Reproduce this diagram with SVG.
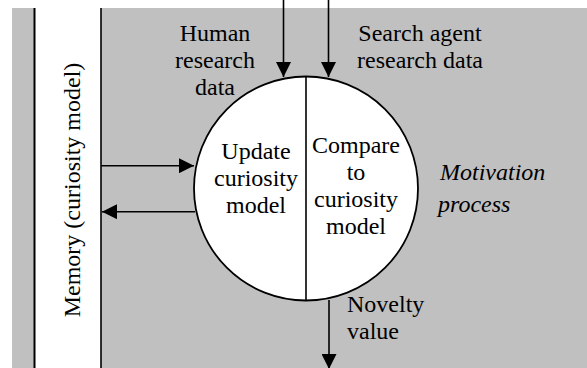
<svg xmlns="http://www.w3.org/2000/svg" width="587" height="368" viewBox="0 0 587 368" font-family="Times New Roman, Liberation Serif, serif" font-size="24">
  <style>
    .c { text-anchor: middle; }
  </style>
  <defs>
    <marker id="ah" viewBox="0 0 15 15" refX="15" refY="7.5" markerWidth="15" markerHeight="15" markerUnits="userSpaceOnUse" orient="auto">
      <path d="M0,0 L15,7.5 L0,15 Z" fill="#000"/>
    </marker>
  </defs>
  <rect width="587" height="368" fill="#fff"/>
  <g id="motivation-process">
    <rect x="12" y="8" width="575" height="360" fill="#c0c0c0"/>
    <text font-family="Times New Roman, serif" font-style="italic" x="440" y="180">Motivation</text>
    <text font-family="Times New Roman, serif" font-style="italic" x="438" y="212">process</text>
  </g>
  <g id="memory">
    <rect x="35" y="8" width="66" height="360" fill="#fff"/>
    <line x1="34.5" y1="8" x2="34.5" y2="368" stroke="#000" stroke-width="2"/>
    <line x1="101" y1="8" x2="101" y2="368" stroke="#000" stroke-width="1.6"/>
    <text font-family="Times New Roman, serif" class="c" transform="translate(80,190) rotate(-90)">Memory (curiosity model)</text>
  </g>
  <g id="process-circle">
    <circle cx="306" cy="188.5" r="112" fill="#fff" stroke="#000" stroke-width="1.8"/>
    <line x1="306" y1="76.5" x2="306" y2="300.5" stroke="#000" stroke-width="1.6"/>
    <text font-family="Times New Roman, serif" class="c" x="256" y="159">Update</text>
    <text font-family="Times New Roman, serif" class="c" x="256" y="186">curiosity</text>
    <text font-family="Times New Roman, serif" class="c" x="256" y="213">model</text>
    <text font-family="Times New Roman, serif" class="c" x="356" y="153">Compare</text>
    <text font-family="Times New Roman, serif" class="c" x="356" y="180">to</text>
    <text font-family="Times New Roman, serif" class="c" x="356" y="207">curiosity</text>
    <text font-family="Times New Roman, serif" class="c" x="356" y="234">model</text>
  </g>
  <g id="labels">
    <text font-family="Times New Roman, serif" class="c" x="215" y="41">Human</text>
    <text font-family="Times New Roman, serif" class="c" x="215" y="68">research</text>
    <text font-family="Times New Roman, serif" class="c" x="215" y="95">data</text>
    <text font-family="Times New Roman, serif" class="c" x="420" y="41">Search agent</text>
    <text font-family="Times New Roman, serif" class="c" x="420" y="68">research data</text>
    <text font-family="Times New Roman, serif" x="347" y="312">Novelty</text>
    <text font-family="Times New Roman, serif" x="347" y="339">value</text>
  </g>
  <g id="connectors" stroke="#000" stroke-width="1.6" fill="none">
    <line x1="283.5" y1="0" x2="283.5" y2="77" marker-end="url(#ah)"/>
    <line x1="328.5" y1="0" x2="328.5" y2="77" marker-end="url(#ah)"/>
    <line x1="101" y1="165.7" x2="194" y2="165.7" marker-end="url(#ah)"/>
    <line x1="195" y1="211.7" x2="102" y2="211.7" marker-end="url(#ah)"/>
    <line x1="329" y1="300" x2="329" y2="369" marker-end="url(#ah)"/>
  </g>
</svg>
